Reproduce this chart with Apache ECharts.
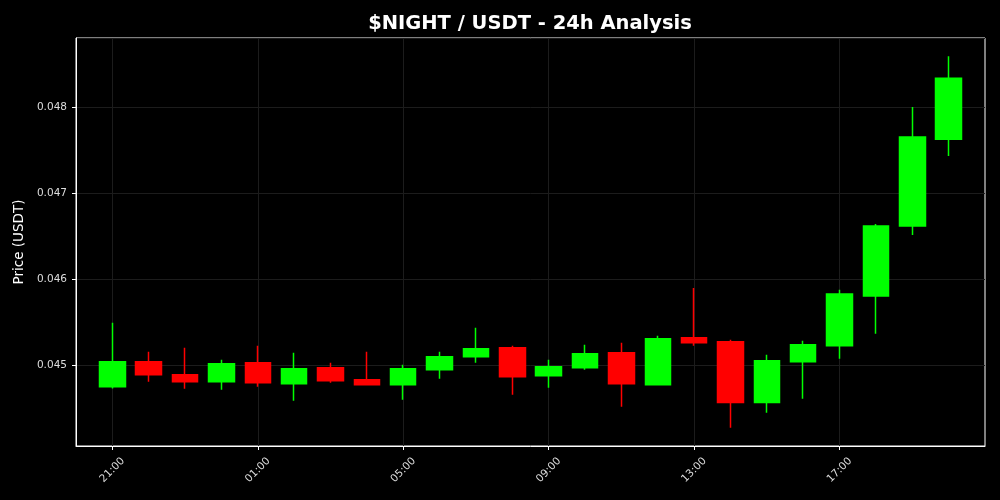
<!DOCTYPE html>
<html>
<head>
<meta charset="utf-8">
<script src="https://cdn.jsdelivr.net/npm/echarts@6/dist/echarts.min.js"></script>
<style>html,body{margin:0;padding:0;background:#000;}#chart{width:1000px;height:500px;}</style>
</head>
<body>
<div id="chart"></div>
<script>
// Hourly time labels (padding slot before and after)
const hours = ['', '21:00','22:00','23:00','00:00','01:00','02:00','03:00','04:00','05:00','06:00','07:00','08:00',
  '09:00','10:00','11:00','12:00','13:00','14:00','15:00','16:00','17:00','18:00','19:00','20:00', ''];
const opens  = [0.044748,0.045038,0.044887,0.044806,0.045027,0.044783,0.044969,0.044829,0.044771,0.044945,0.045096,0.045201,
  0.044876,0.044969,0.045143,0.044771,0.045317,0.045270,0.044566,0.045038,0.045224,0.045804,0.046616,0.047624];
const closes = [0.045038,0.044887,0.044806,0.045015,0.044795,0.044957,0.044818,0.044771,0.044957,0.045096,0.045189,0.044864,
  0.044980,0.045131,0.044783,0.045305,0.045259,0.044566,0.045050,0.045236,0.045827,0.046616,0.047649,0.048333];
const lows   = [0.044729,0.044806,0.044725,0.044713,0.044748,0.044586,0.044795,0.044771,0.044597,0.044841,0.045027,0.044655,
  0.044737,0.044945,0.044516,0.044771,0.045224,0.044273,0.044447,0.044609,0.045073,0.045363,0.046512,0.047428];
const highs  = [0.045491,0.045154,0.045201,0.045061,0.045224,0.045143,0.045027,0.045154,0.045003,0.045154,0.045433,0.045224,
  0.045061,0.045236,0.045259,0.045340,0.045897,0.045294,0.045120,0.045282,0.045874,0.046639,0.047997,0.048588];
const yTicks = [0.045, 0.046, 0.047, 0.048];

const candleData = ['-'];
for (let i = 0; i < opens.length; i++) candleData.push([opens[i], closes[i], lows[i], highs[i]]);
candleData.push('-');

const labelShown = (idx) => idx >= 1 && idx <= 24 && (idx - 1) % 4 === 0;
const font = 'DejaVu Sans';

const chart = echarts.init(document.getElementById('chart'));
chart.setOption({
  backgroundColor: '#000',
  animation: false,
  title: {
    text: '$NIGHT / USDT - 24h Analysis',
    left: 525, top: 9, textAlign: 'center',
    textStyle: {color: '#fff', fontSize: 19.5, fontWeight: 'bold', fontFamily: font}
  },
  grid: {left: 76, right: 15, top: 38, bottom: 54, show: true, borderColor: '#fff', borderWidth: 1,
    backgroundColor: 'transparent', outerBoundsMode: 'none', containLabel: false},
  xAxis: {
    type: 'category', data: hours, boundaryGap: false,
    axisLine: {show: true, lineStyle: {color: '#fff'}},
    axisTick: {show: true, length: 4, interval: (i) => labelShown(i), lineStyle: {color: '#fff'}},
    axisLabel: {interval: (i) => labelShown(i), rotate: 45, align: 'center', verticalAlign: 'middle',
      color: '#ddd', fontSize: 10.5, fontFamily: font, margin: 24},
    splitLine: {show: true, interval: (i) => labelShown(i), lineStyle: {color: '#1c1c1c', width: 1}}
  },
  yAxis: {
    type: 'value', min: 0.04406, max: 0.0488, splitNumber: 5, scale: true,
    name: 'Price (USDT)', nameLocation: 'middle', nameGap: 50,
    nameTextStyle: {color: '#fff', fontSize: 13.5, fontFamily: font},
    axisLine: {show: true, lineStyle: {color: '#fff'}},
    axisTick: {show: true, length: 4, lineStyle: {color: '#fff'}},
    axisLabel: {
      color: '#ddd', fontSize: 10.5, fontFamily: font, margin: 9, showMinLabel: false, showMaxLabel: false,
      formatter: (v) => yTicks.some(t => Math.abs(t - v) < 1e-9) ? v.toFixed(3) : ''
    },
    splitLine: {show: true, lineStyle: {color: '#1c1c1c', width: 1}}
  },
  series: [{
    type: 'candlestick',
    data: candleData,
    barWidth: 26,
    itemStyle: {color: '#00ff00', color0: '#ff0000', borderColor: '#00ff00', borderColor0: '#ff0000', borderWidth: 1.5}
  }]
});
</script>
</body>
</html>
